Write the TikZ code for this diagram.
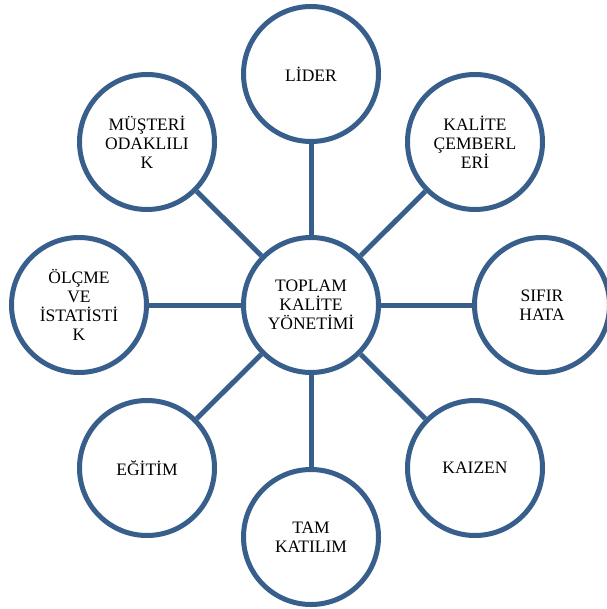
\documentclass[tikz,border=0pt]{standalone}
\usepackage{fontspec}
\setmainfont{Liberation Serif}
\usepackage{tikz}
\definecolor{ringblue}{RGB}{56,94,140}

\begin{document}
\begin{tikzpicture}[x=1pt,y=-1pt,line width=5pt,
  ring/.style={circle,draw=ringblue,minimum size=135pt,inner sep=0pt,align=center,
    font=\fontsize{17.5}{19}\selectfont}]
\useasboundingbox (0,0) rectangle (606,609);
\node (tkv) [ring] at (311,305) {TOPLAM\\KALİTE\\YÖNETİMİ};
\node (lider) [ring] at (311,74) {LİDER};
\node (cember) [ring] at (475,142) {KALİTE\\ÇEMBERL\\ERİ};
\node (sifir) [ring] at (542,305) {SIFIR\\HATA};
\node (kaizen) [ring] at (475,468) {KAIZEN};
\node (katilim) [ring] at (311,537) {TAM\\KATILIM};
\node (egitim) [ring] at (147,468) {EĞİTİM};
\node (olcme) [ring] at (79,305) {ÖLÇME\\VE\\İSTATİSTİ\\K};
\node (musteri) [ring] at (147,142) {MÜŞTERİ\\ODAKLILI\\K};
\draw[ringblue] (tkv) -- (lider);
\draw[ringblue] (tkv) -- (cember);
\draw[ringblue] (tkv) -- (sifir);
\draw[ringblue] (tkv) -- (kaizen);
\draw[ringblue] (tkv) -- (katilim);
\draw[ringblue] (tkv) -- (egitim);
\draw[ringblue] (tkv) -- (olcme);
\draw[ringblue] (tkv) -- (musteri);
\end{tikzpicture}
\end{document}
